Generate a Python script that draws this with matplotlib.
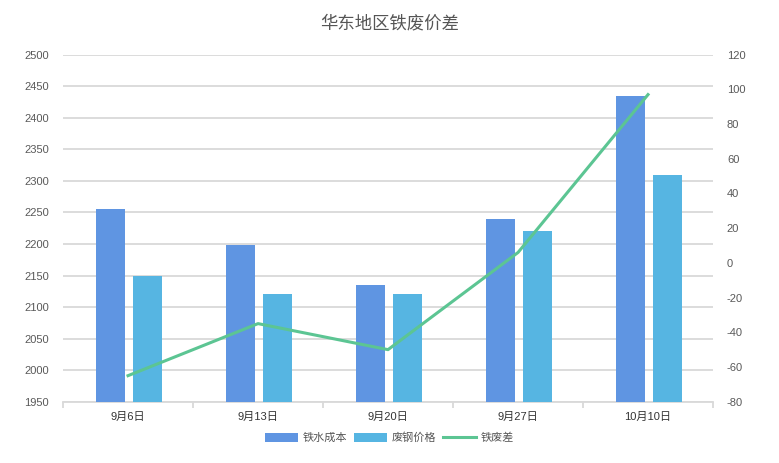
import matplotlib
matplotlib.use("Agg")
import matplotlib.pyplot as plt
import numpy as np

plt.rcParams['font.family'] = ['Liberation Sans', 'Noto Sans CJK SC', 'DejaVu Sans']
plt.rcParams['axes.unicode_minus'] = False

categories = ['9月6日', '9月13日', '9月20日', '9月27日', '10月10日']
iron_cost = [2256, 2198, 2135, 2240, 2435]      # 铁水成本
scrap_price = [2150, 2120, 2120, 2220, 2310]    # 废钢价格
spread = [-65, -35, -50, 6, 97]                 # 铁废差

left_ticks = list(range(1950, 2501, 50))
right_ticks = list(range(-80, 121, 20))

c_iron = '#5F95E2'
c_scrap = '#56B5E2'
c_line = '#5CC593'
grid_c = '#D9D9D9'
label_c = '#595959'

fig = plt.figure(figsize=(7.79, 4.63), dpi=100)
ax = fig.add_axes([0.0809, 0.1324, 0.8344, 0.7495])
ax2 = ax.twinx()

x = np.arange(len(categories))
w = 0.23
ax.bar(x - 0.135, iron_cost, width=w, color=c_iron, label='铁水成本', zorder=3)
ax.bar(x + 0.15, scrap_price, width=w, color=c_scrap, label='废钢价格', zorder=3)
ax2.plot(x, spread, color=c_line, lw=2.2, label='铁废差', zorder=4)

ax.set_xlim(-0.5, len(categories) - 0.5)
ax.set_ylim(1950, 2500)
ax.set_yticks(left_ticks)
ax2.set_ylim(-80, 120)
ax2.set_yticks(right_ticks)

ax.grid(axis='y', color=grid_c, lw=1.3, zorder=0)
ax.set_axisbelow(True)

for a in (ax, ax2):
    for s in ('top', 'left', 'right', 'bottom'):
        a.spines[s].set_visible(False)
ax.spines['bottom'].set_visible(True)
ax.spines['bottom'].set_color(grid_c)
ax.spines['bottom'].set_linewidth(1.3)

ax.tick_params(axis='y', length=0, labelsize=8, labelcolor=label_c, pad=10)
ax2.tick_params(axis='y', length=0, labelsize=8, labelcolor=label_c, pad=10)

ax.set_xticks(x)
ax.set_xticklabels(categories)
ax.tick_params(axis='x', which='major', length=0, labelsize=8, labelcolor='#333333', pad=7)
ax.set_xticks(np.arange(-0.5, len(categories), 1.0), minor=True)
ax.tick_params(axis='x', which='minor', length=4, color=grid_c, width=1.3)

fig.text(0.5, 0.951, '华东地区铁废价差', ha='center', va='center',
         fontsize=12.5, color='#555555')

h1, l1 = ax.get_legend_handles_labels()
h2, l2 = ax2.get_legend_handles_labels()
fig.legend(h1 + h2, l1 + l2, loc='center', bbox_to_anchor=(0.5, 0.054), ncol=3,
           frameon=False, fontsize=8, handlelength=3.0, handleheight=0.9,
           columnspacing=0.6, handletextpad=0.4, labelcolor='#555555')

fig.savefig('out.png', dpi=100)
